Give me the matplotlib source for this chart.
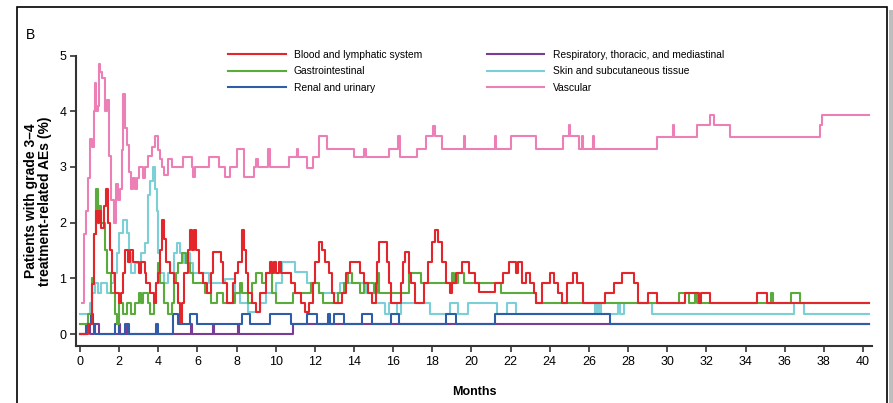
import matplotlib
matplotlib.use("Agg")
import matplotlib.pyplot as plt
from matplotlib.patches import Rectangle

plt.rcParams['font.family'] = ['Liberation Sans', 'DejaVu Sans']

# step data: (month, percent), drawn as post-steps up to END
END = 40.3

blood = [(0, 0), (0.4, 0.18), (0.6, 0.9), (0.7, 1.8), (0.8, 2.2), (0.9, 2.0), (1.0, 2.2), (1.1, 1.9),
         (1.25, 2.3), (1.35, 2.6), (1.45, 2.0), (1.55, 1.5), (1.65, 1.1), (1.8, 0.73), (2.0, 0.55),
         (2.1, 0.73), (2.2, 1.1), (2.3, 1.5), (2.45, 1.3), (2.55, 1.5), (2.7, 1.3), (3.0, 1.1),
         (3.1, 1.3), (3.3, 1.1), (3.4, 0.91), (3.6, 0.73), (3.8, 0.55), (3.9, 0.91), (4.0, 1.1),
         (4.1, 1.5), (4.2, 2.05), (4.3, 1.7), (4.4, 1.3), (4.6, 1.1), (4.8, 0.91), (5.0, 0.55),
         (5.1, 0.2), (5.2, 0.55), (5.3, 1.1), (5.5, 1.5), (5.6, 1.87), (5.75, 1.5), (5.85, 1.87),
         (5.95, 1.5), (6.1, 1.1), (6.3, 0.91), (6.5, 0.73), (6.7, 1.1), (6.8, 1.48), (7.2, 1.3),
         (7.3, 0.91), (7.5, 0.55), (7.8, 0.91), (7.9, 1.1), (8.1, 1.3), (8.3, 1.87), (8.4, 1.5),
         (8.5, 1.1), (8.6, 0.73), (8.8, 0.55), (9.0, 0.4), (9.2, 0.73), (9.5, 1.1), (9.7, 1.3),
         (9.8, 1.1), (9.9, 1.3), (10.0, 1.1), (10.15, 1.3), (10.25, 1.1), (10.8, 0.91), (11.0, 0.73),
         (11.3, 0.55), (11.5, 0.4), (11.7, 0.55), (11.9, 0.91), (12.0, 1.3), (12.2, 1.66), (12.35, 1.5),
         (12.5, 1.3), (12.7, 1.1), (12.9, 0.73), (13.0, 0.55), (13.4, 0.73), (13.6, 1.1), (13.8, 1.3),
         (14.3, 1.1), (14.5, 0.91), (14.7, 0.73), (14.9, 0.55), (15.1, 0.91), (15.2, 1.3), (15.3, 1.66),
         (15.7, 1.3), (15.8, 0.91), (15.9, 0.55), (16.4, 0.91), (16.5, 1.3), (16.6, 1.48), (16.8, 1.1),
         (16.9, 0.91), (17.1, 0.55), (17.6, 0.91), (17.8, 1.3), (18.0, 1.66), (18.15, 1.87), (18.3, 1.66),
         (18.5, 1.3), (18.7, 0.91), (18.9, 0.73), (19.0, 0.91), (19.2, 1.1), (19.5, 1.3), (19.9, 1.1),
         (20.2, 0.91), (20.4, 0.76), (21.2, 0.91), (21.6, 1.1), (21.9, 1.3), (22.3, 1.1), (22.4, 1.3),
         (22.6, 0.91), (22.8, 1.1), (23.0, 0.91), (23.2, 0.73), (23.3, 0.55), (23.6, 0.91), (24.0, 1.1),
         (24.2, 0.91), (24.4, 0.73), (24.6, 0.55), (24.9, 0.91), (25.2, 1.1), (25.4, 0.91), (25.7, 0.55),
         (26.8, 0.73), (27.3, 0.91), (27.7, 1.1), (28.3, 0.91), (28.5, 0.55), (29.0, 0.73), (29.5, 0.55),
         (30.9, 0.73), (31.6, 0.55), (31.7, 0.73), (32.2, 0.55), (34.6, 0.73), (35.1, 0.55)]

gastro = [(0, 0.18), (0.4, 0.36), (0.6, 1.0), (0.7, 1.8), (0.8, 2.6), (0.9, 2.2), (1.0, 2.3), (1.1, 2.0),
          (1.3, 1.5), (1.4, 1.1), (1.6, 0.73), (1.8, 0.36), (1.9, 0.18), (2.0, 0.55), (2.2, 0.36),
          (2.4, 0.55), (2.6, 0.36), (2.8, 0.55), (3.0, 0.73), (3.1, 0.55), (3.2, 0.73), (3.5, 0.55),
          (3.6, 0.36), (3.8, 0.55), (3.9, 0.91), (4.0, 1.27), (4.1, 0.91), (4.3, 0.55), (4.5, 0.36),
          (4.7, 0.55), (4.8, 0.91), (4.9, 1.09), (5.0, 1.27), (5.2, 1.45), (5.4, 1.27), (5.6, 1.09),
          (5.8, 0.91), (6.4, 0.73), (6.7, 0.55), (7.0, 0.73), (7.3, 0.55), (7.9, 0.73), (8.2, 0.91),
          (8.3, 0.73), (8.6, 0.55), (8.8, 0.91), (9.0, 1.09), (9.3, 0.91), (9.5, 1.09), (9.8, 0.73),
          (10.0, 0.55), (10.9, 0.73), (11.8, 0.91), (12.2, 0.73), (12.4, 0.55), (13.2, 0.73), (13.5, 0.91),
          (13.7, 1.09), (13.9, 0.91), (14.3, 0.73), (14.5, 0.91), (15.0, 0.73), (15.2, 1.09), (15.3, 0.73),
          (16.8, 1.09), (17.4, 0.91), (19.0, 1.09), (19.1, 0.91), (19.3, 1.09), (19.6, 0.91), (21.5, 0.73),
          (23.3, 0.55), (30.6, 0.73), (31.1, 0.55), (31.4, 0.73), (31.5, 0.55), (35.3, 0.73), (35.4, 0.55),
          (36.3, 0.73), (36.8, 0.55)]

renal = [(0, 0), (0.35, 0.18), (0.55, 0.36), (0.65, 0.18), (0.75, 0), (1.8, 0.18), (2.0, 0), (2.3, 0.18),
         (2.5, 0), (3.9, 0.18), (4.0, 0), (4.75, 0.36), (5.0, 0.18), (5.6, 0.36), (6.0, 0.18), (8.3, 0.36),
         (8.7, 0.18), (9.7, 0.36), (10.8, 0.18), (11.6, 0.36), (12.1, 0.18), (12.65, 0.36), (12.75, 0.18),
         (13.0, 0.36), (13.5, 0.18), (14.4, 0.36), (14.9, 0.18), (15.9, 0.36), (16.3, 0.18), (18.7, 0.36),
         (19.2, 0.18), (21.2, 0.36), (27.1, 0.18)]

resp = [(0, 0), (0.3, 0.18), (0.5, 0), (0.7, 0.18), (1.0, 0), (2.0, 0.18), (2.05, 0), (2.4, 0.18),
        (2.45, 0), (5.65, 0.18), (5.7, 0), (6.8, 0.18), (6.85, 0), (8.1, 0.18), (8.15, 0), (10.9, 0.18)]

skin = [(0, 0.36), (0.5, 0.55), (0.6, 0.73), (0.75, 0.91), (0.9, 0.73), (1.1, 0.91), (1.4, 0.73),
        (1.6, 0.91), (1.75, 1.09), (1.9, 1.45), (2.0, 1.82), (2.2, 2.05), (2.4, 1.82), (2.5, 1.45),
        (2.6, 1.09), (2.8, 1.27), (3.1, 1.45), (3.3, 1.64), (3.5, 2.5), (3.6, 2.75), (3.75, 3.0),
        (3.85, 2.6), (3.95, 2.2), (4.0, 1.45), (4.1, 1.09), (4.3, 0.91), (4.5, 1.09), (4.8, 1.45),
        (4.95, 1.64), (5.1, 1.45), (5.3, 1.27), (5.5, 1.45), (5.6, 1.27), (5.8, 1.09), (6.6, 0.91),
        (7.4, 0.98), (7.9, 0.73), (8.2, 0.55), (8.6, 0.4), (9.2, 0.55), (9.5, 0.73), (10.0, 0.91),
        (10.3, 1.3), (11.0, 1.12), (11.6, 0.91), (12.2, 0.73), (13.3, 0.91), (14.6, 0.73), (15.1, 0.55),
        (15.6, 0.36), (15.8, 0.55), (16.2, 0.36), (16.4, 0.55), (17.9, 0.36), (18.9, 0.55), (19.3, 0.36),
        (19.8, 0.55), (21.3, 0.36), (21.8, 0.55), (22.3, 0.36), (26.3, 0.55), (26.4, 0.36), (26.5, 0.55),
        (26.6, 0.36), (27.5, 0.55), (27.6, 0.36), (27.8, 0.55), (29.2, 0.36), (36.5, 0.55), (37.0, 0.36)]

vascular = [(0.1, 0.55), (0.2, 1.8), (0.3, 2.2), (0.4, 2.8), (0.5, 3.5), (0.6, 3.35), (0.7, 4.0),
            (0.75, 4.5), (0.8, 4.0), (0.9, 4.1), (0.95, 4.85), (1.05, 4.7), (1.15, 4.6), (1.3, 4.0),
            (1.4, 4.2), (1.5, 3.2), (1.6, 2.4), (1.75, 2.0), (1.85, 2.7), (1.95, 2.4), (2.05, 2.6),
            (2.15, 3.3), (2.2, 4.3), (2.3, 3.7), (2.4, 3.4), (2.5, 2.9), (2.6, 2.6), (2.7, 2.8),
            (2.8, 2.6), (2.9, 2.8), (3.0, 3.0), (3.2, 2.8), (3.3, 3.0), (3.5, 3.2), (3.7, 3.35),
            (3.85, 3.55), (4.0, 3.3), (4.1, 3.15), (4.2, 3.0), (4.3, 2.85), (4.5, 3.15), (4.7, 3.0),
            (5.25, 3.18), (5.7, 3.0), (5.8, 2.82), (5.9, 3.0), (6.6, 3.18), (7.1, 3.0), (7.4, 2.82),
            (7.66, 3.0), (8.0, 3.33), (8.4, 2.82), (8.9, 3.0), (9.0, 3.15), (9.1, 3.0), (9.6, 3.33),
            (9.7, 3.0), (10.7, 3.18), (11.1, 3.33), (11.15, 3.18), (11.6, 2.98), (11.9, 3.18), (12.2, 3.55),
            (12.6, 3.33), (14.0, 3.17), (14.5, 3.33), (14.6, 3.17), (15.8, 3.33), (16.25, 3.55), (16.35, 3.17),
            (17.2, 3.33), (17.7, 3.55), (18.05, 3.73), (18.15, 3.55), (18.5, 3.33), (19.6, 3.55), (19.65, 3.33),
            (21.2, 3.55), (21.25, 3.33), (22.0, 3.55), (23.3, 3.33), (24.7, 3.55), (25.0, 3.75), (25.05, 3.55),
            (25.5, 3.33), (25.65, 3.55), (25.7, 3.33), (26.2, 3.55), (26.25, 3.33), (29.5, 3.54), (30.3, 3.75),
            (30.35, 3.54), (31.5, 3.75), (32.2, 3.93), (32.4, 3.75), (33.2, 3.54), (37.8, 3.75), (37.9, 3.93)]

labels = ['Blood and lymphatic system', 'Gastrointestinal', 'Renal and urinary',
          'Respiratory, thoracic, and mediastinal', 'Skin and subcutaneous tissue', 'Vascular']
colors = ['#e3262b', '#5aab3c', '#2f5da8', '#7a3d96', '#7ccfd6', '#ec7fb6']
x_ticks = list(range(0, 41, 2))
y_ticks = [0, 1, 2, 3, 4, 5]

fig = plt.figure(figsize=(8.93, 4.03), dpi=100)
ax = fig.add_axes([76 / 893, 57 / 403, 796 / 893, 290.5 / 403])

series = [blood, gastro, renal, resp, skin, vascular]
zorders = [6, 5, 4, 3, 2, 1]
handles = {}
for pts, lab, col, z in zip(series, labels, colors, zorders):
    t = [p[0] for p in pts] + [END]
    v = [p[1] for p in pts] + [pts[-1][1]]
    ln, = ax.step(t, v, where='post', color=col, lw=1.5, label=lab, zorder=z)
    handles[lab] = ln

ax.set_xlim(-0.2, 40.46)
ax.set_ylim(-0.215, 5.0)
ax.set_xticks(x_ticks)
ax.set_yticks(y_ticks)
ax.tick_params(labelsize=9, length=4, width=1.2, color='#333333', pad=3)
for s in ['top', 'right']:
    ax.spines[s].set_visible(False)
for s in ['left', 'bottom']:
    ax.spines[s].set_linewidth(1.5)
    ax.spines[s].set_color('#333333')

ax.set_xlabel('Months', fontsize=9, fontweight='bold', labelpad=13)
ax.set_ylabel('Patients with grade 3\u20134\ntreatment-related AEs (%)', fontsize=10,
              fontweight='bold', labelpad=5, linespacing=1.0)

leg = ax.legend([handles[l] for l in labels], labels, ncol=2, frameon=False,
                loc='upper left', bbox_to_anchor=(228 / 893, 1 - 50 / 403),
                bbox_transform=fig.transFigure, fontsize=7.4, handlelength=5.6,
                handletextpad=0.8, columnspacing=6.3, labelspacing=0.62,
                borderpad=0, borderaxespad=0)

fig.text(26 / 893, 1 - 35 / 403, 'B', fontsize=10, va='center', ha='left')

# outer panel frame
fig.add_artist(Rectangle((17 / 893, -0.05), 870 / 893, 1.05 - 7 / 403,
                         transform=fig.transFigure, fill=False, ec='black', lw=1.2))
fig.add_artist(Rectangle((889 / 893, 0), 4 / 893, 1 - 10 / 403,
                         transform=fig.transFigure, fc='#bdbdbd', ec='none'))

fig.savefig('out.png', dpi=100)
